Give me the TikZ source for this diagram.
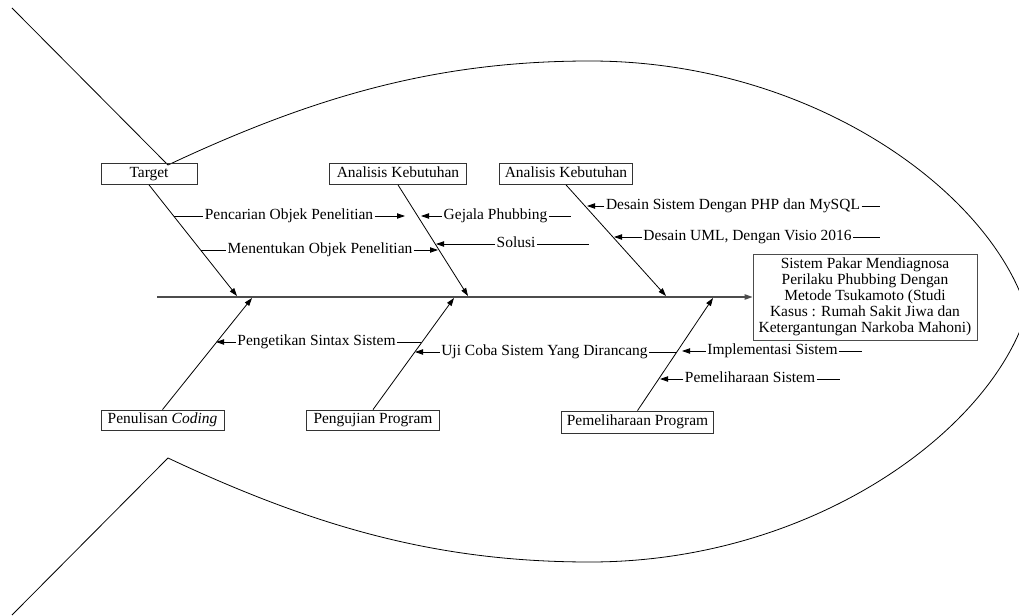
\documentclass[tikz,border=0pt]{standalone}
\usepackage{fontspec}
\setmainfont{Liberation Serif}
\usetikzlibrary{arrows.meta}
\tikzset{
  causebox/.style={draw=black!80, line width=0.6pt, inner sep=0pt, minimum height=15.75pt, text height=8pt, text depth=2.5pt},
  sublabel/.style={inner sep=1pt, text height=8pt, text depth=2.5pt},
  bone/.style={line width=0.6pt, -{Triangle[length=6pt,width=4pt]}},
  twig/.style={line width=0.6pt},
  twigarrow/.style={line width=0.6pt, -{Triangle[length=6pt,width=4pt]}},
}

\begin{document}
\begin{tikzpicture}[x=0.75pt,y=0.75pt,yscale=-1, font=\fontsize{11.6}{12}\selectfont]
        \useasboundingbox (0,0) rectangle (1019,616);
        \clip (0,0) rectangle (1019,616);

        %Shape: Fish Body
        \draw [line width=0.6pt] (12,8) -- (168,165) .. controls (318,94.5) and (440,61) .. (590,61) .. controls (810,61) and (990,190) .. (1027,311.5) .. controls (990,433) and (810,562) .. (590,562) .. controls (440,562) and (318,528.5) .. (168,458) -- (12,615) ;

        % Cause Boxes
        \node [causebox, minimum width=72pt] (target) at (149,174) {Target};
        \node [causebox, minimum width=102.75pt] (analisisA) at (398,174) {Analisis Kebutuhan};
        \node [causebox, minimum width=99.75pt] (analisisB) at (566,174) {Analisis Kebutuhan};
        \node [causebox, minimum width=92.25pt, minimum height=15pt] (coding) at (162.5,420) {Penulisan \textit{Coding}};
        \node [causebox, minimum width=99.75pt, minimum height=15pt] (pengujian) at (373,420) {Pengujian Program};
        \node [causebox, minimum width=114pt, minimum height=16.5pt] (pemeliharaan) at (637.5,422) {Pemeliharaan Program};
        % Effect Box
        \node [draw=black!70, line width=0.6pt, inner sep=0pt, minimum width=168pt, minimum height=64.5pt, align=center] (effect) at (865,297) {Sistem Pakar Mendiagnosa\\Perilaku Phubbing Dengan\\Metode Tsukamoto (Studi\\Kasus : Rumah Sakit Jiwa dan\\Ketergantungan Narkoba Mahoni)};

        %Straight Lines: Spine
        \coordinate (spineTail) at (157,297);
        \draw [line width=1pt, draw=black!70, -{Triangle[length=6pt,width=4pt]}] (spineTail) -- (effect.west);

        %Straight Lines: Bones
        \coordinate (tipTarget) at (237,296);
        \coordinate (tipAnalisisA) at (468,296);
        \coordinate (tipAnalisisB) at (666,296);
        \coordinate (tipCoding) at (252,298);
        \coordinate (tipPengujian) at (454,298);
        \coordinate (tipPemeliharaan) at (713,298);
        \draw [bone] (target.south) -- (tipTarget);
        \draw [bone] (analisisA.south) -- (tipAnalisisA);
        \draw [bone] (analisisB.south) -- (tipAnalisisB);
        \draw [bone] (coding.north) -- (tipCoding);
        \draw [bone] (pengujian.north) -- (tipPengujian);
        \draw [bone] (pemeliharaan.north) -- (tipPemeliharaan);

        % Text Node
        \coordinate (pencarianFrom) at (174,216);
        \coordinate (pencarianTo) at (405,216);
        \node [sublabel] (pencarian) at (289,216) {Pencarian Objek Penelitian};
        \draw [twig] (pencarianFrom) -- (pencarian.west);
        \draw [twigarrow] (pencarian.east) -- (pencarianTo);
        % Text Node
        \coordinate (menentukanFrom) at (201,250);
        \coordinate (menentukanTo) at (438,250);
        \node [sublabel] (menentukan) at (320,250) {Menentukan Objek Penelitian};
        \draw [twig] (menentukanFrom) -- (menentukan.west);
        \draw [twigarrow] (menentukan.east) -- (menentukanTo);
        % Text Node
        \coordinate (gejalaTo) at (421,216);
        \coordinate (gejalaEnd) at (571,216);
        \node [sublabel] (gejala) at (495.5,216) {Gejala Phubbing};
        \draw [twigarrow] (gejala.west) -- (gejalaTo);
        \draw [twig] (gejala.east) -- (gejalaEnd);
        % Text Node
        \coordinate (solusiTo) at (436,244);
        \coordinate (solusiEnd) at (589,244);
        \node [sublabel] (solusi) at (516,244) {Solusi};
        \draw [twigarrow] (solusi.west) -- (solusiTo);
        \draw [twig] (solusi.east) -- (solusiEnd);
        % Text Node
        \coordinate (desainPhpTo) at (587,206);
        \coordinate (desainPhpEnd) at (880,206);
        \node [sublabel] (desainPhp) at (733,206) {Desain Sistem Dengan PHP dan MySQL};
        \draw [twigarrow] (desainPhp.west) -- (desainPhpTo);
        \draw [twig] (desainPhp.east) -- (desainPhpEnd);
        % Text Node
        \coordinate (desainUmlTo) at (614,237);
        \coordinate (desainUmlEnd) at (880,237);
        \node [sublabel] (desainUml) at (747.5,237) {Desain UML, Dengan Visio 2016};
        \draw [twigarrow] (desainUml.west) -- (desainUmlTo);
        \draw [twig] (desainUml.east) -- (desainUmlEnd);
        % Text Node
        \coordinate (pengetikanTo) at (216,342);
        \coordinate (pengetikanFrom) at (421,342);
        \node [sublabel] (pengetikan) at (316.5,342) {Pengetikan Sintax Sistem};
        \draw [twigarrow] (pengetikan.west) -- (pengetikanTo);
        \draw [twig] (pengetikanFrom) -- (pengetikan.east);
        % Text Node
        \coordinate (ujiCobaTo) at (415,352);
        \coordinate (ujiCobaFrom) at (677,352);
        \node [sublabel] (ujiCoba) at (544.5,352) {Uji Coba Sistem Yang Dirancang};
        \draw [twigarrow] (ujiCoba.west) -- (ujiCobaTo);
        \draw [twig] (ujiCobaFrom) -- (ujiCoba.east);
        % Text Node
        \coordinate (implementasiTo) at (682,351);
        \coordinate (implementasiEnd) at (862,351);
        \node [sublabel] (implementasi) at (772.5,351) {Implementasi Sistem};
        \draw [twigarrow] (implementasi.west) -- (implementasiTo);
        \draw [twig] (implementasi.east) -- (implementasiEnd);
        % Text Node
        \coordinate (pemeliharaanSisTo) at (660,379);
        \coordinate (pemeliharaanSisEnd) at (840,379);
        \node [sublabel] (pemeliharaanSis) at (750,379) {Pemeliharaan Sistem};
        \draw [twigarrow] (pemeliharaanSis.west) -- (pemeliharaanSisTo);
        \draw [twig] (pemeliharaanSis.east) -- (pemeliharaanSisEnd);

\end{tikzpicture}
\end{document}
